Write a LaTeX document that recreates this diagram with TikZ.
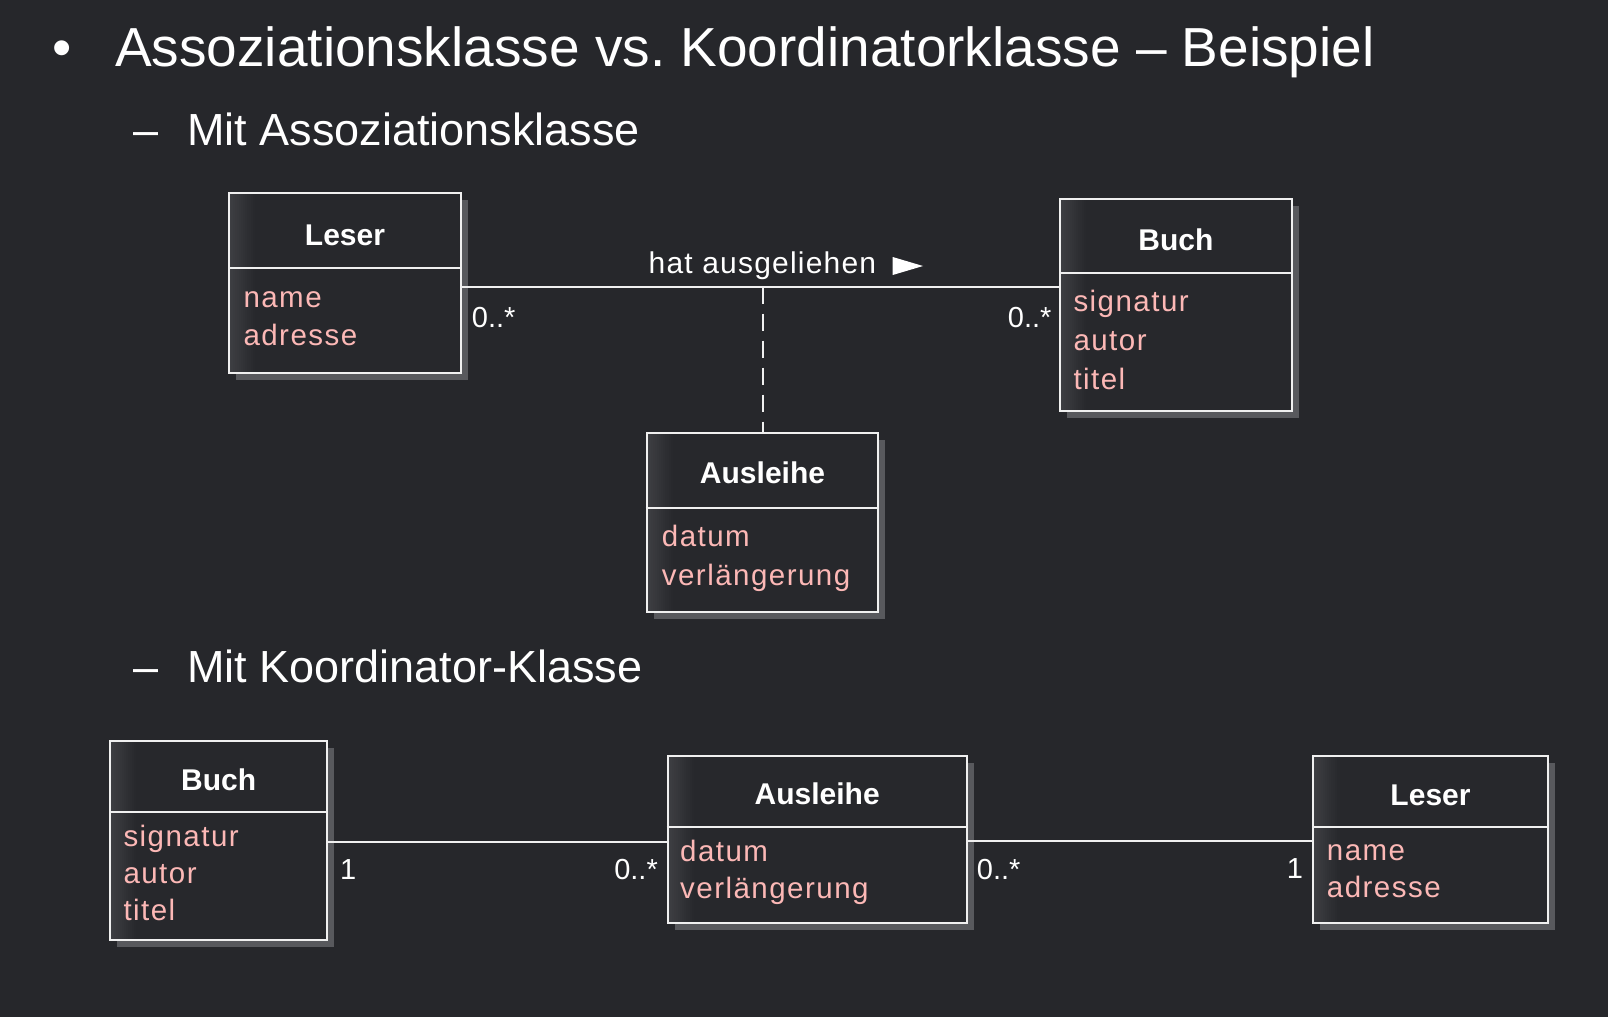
\documentclass[tikz,border=0pt]{standalone}
\usepackage{fontspec}
\setmainfont{Liberation Sans}
\newfontfamily\attrfont[LetterSpace=5]{Liberation Sans}
\newfontfamily\labelfont[LetterSpace=4]{Liberation Sans}
\usetikzlibrary{shadows}
\frenchspacing
\definecolor{bgc}{RGB}{38,39,43}
\definecolor{boxbg}{RGB}{39,40,44}
\definecolor{boxlight}{RGB}{62,63,67}
\definecolor{shadowc}{RGB}{88,89,93}
\definecolor{linec}{RGB}{240,240,240}
\definecolor{attrc}{RGB}{252,184,182}
\tikzset{
  classbox/.style={draw=linec, line width=2pt, fill=boxbg, inner sep=0pt,
    drop shadow={shadow xshift=7pt, shadow yshift=-7pt, shadow scale=1, fill=shadowc, opacity=1},
    path picture={\foreach \i in {0,...,12}{%
        \pgfmathtruncatemacro{\pct}{100-\i*8}%
        \fill[boxlight!\pct!boxbg] ([xshift=\i*2pt]path picture bounding box.south west)
          rectangle ([xshift=\i*2pt+2.2pt]path picture bounding box.north west);}}},
  sepline/.style={draw=linec, line width=2pt},
  conn/.style={draw=linec, line width=2pt},
  dashconn/.style={draw=linec, line width=2pt, dash pattern=on 17pt off 10pt},
  headtext/.style={anchor=base, inner sep=0pt, text=white, font=\bfseries\fontsize{30}{36}\selectfont},
  attr/.style={anchor=base west, inner sep=0pt, text=attrc, font=\attrfont\fontsize{29.5}{36}\selectfont},
  mult/.style={inner sep=0pt, text=white, font=\fontsize{29}{34}\selectfont},
  heading/.style={anchor=base west, inner sep=0pt, text=white, font=\fontsize{55}{62}\selectfont},
  subheading/.style={anchor=base west, inner sep=0pt, text=white, font=\fontsize{45}{52}\selectfont},
}
\newcommand\umlclass[9]{%
  \node[classbox, minimum width=#4pt, minimum height=#5pt] (#1) at (#2,#3) {};
  \draw[sepline] (#1.west |- 0,#6) -- (#1.east |- 0,#6);
  \node[headtext] (#1-title) at (#2,#8) {#7};
}
\begin{document}
\begin{tikzpicture}[x=1pt,y=-1pt]
\fill[bgc] (0,0) rectangle (1608,1017);
\useasboundingbox (0,0) rectangle (1608,1017);

% headings
\node[heading] (bullet) at (52.5,66.7) {•};
\node[heading] (title) at (115,66.7) {Assoziationsklasse vs. Koordinatorklasse – Beispiel};
\node[subheading] (dash1) at (133,145) {–};
\node[subheading] (sub1) at (187,145) {Mit Assoziationsklasse};
\node[subheading] (dash2) at (133,682.5) {–};
\node[subheading] (sub2) at (187,682.5) {Mit Koordinator-Klasse};

% ---------- upper diagram ----------
\umlclass{l1}{345}{282.85}{232}{179.7}{268}{Leser}{245.7}{}
\node[attr] (l1-a1) at (243.3,307.7) {name};
\node[attr] (l1-a2) at (243.3,345.7) {adresse};

\umlclass{b1}{1175.85}{305}{231.7}{212}{273.3}{Buch}{250}{}
\node[attr] (b1-a1) at (1073.3,311.7) {signatur};
\node[attr] (b1-a2) at (1073.3,350) {autor};
\node[attr] (b1-a3) at (1073.3,389.3) {titel};

\umlclass{a1}{762.5}{522.2}{231.6}{179}{507.7}{Ausleihe}{483.3}{}
\node[attr] (a1-a1) at (661.7,546.7) {datum};
\node[attr] (a1-a2) at (661.7,585.7) {verlängerung};

\coordinate (assocL) at ([yshift=-3.85pt]l1.east);
\coordinate (assocR) at (assocL -| b1.west);
\draw[conn] (assocL) -- (assocR);
\draw[dashconn] (assocL -| a1.north) -- (a1.north);
\node[anchor=base west, inner sep=0pt, text=white, font=\labelfont\fontsize{30}{36}\selectfont] (assoclabel) at (648.5,273.3) {hat ausgeliehen};
\fill[white] (892.7,257) -- (923,266) -- (892.7,275) -- cycle;
\node[mult, anchor=base west] (m1) at (471.7,327.7) {0..*};
\node[mult, anchor=base east] (m2) at (1051.7,327.7) {0..*};

% ---------- lower diagram ----------
\umlclass{b2}{218.65}{840.5}{217.3}{199}{812.3}{Buch}{790}{}
\node[attr] (b2-a1) at (123.3,846.7) {signatur};
\node[attr] (b2-a2) at (123.3,883.3) {autor};
\node[attr] (b2-a3) at (123.3,920) {titel};

\umlclass{a2}{817.2}{839.65}{299}{167.3}{826.7}{Ausleihe}{804}{}
\node[attr] (a2-a1) at (680,861.7) {datum};
\node[attr] (a2-a2) at (680,898.3) {verlängerung};

\umlclass{l2}{1430.5}{839.5}{234.4}{167.6}{827.3}{Leser}{805}{}
\node[attr] (l2-a1) at (1326.7,860.7) {name};
\node[attr] (l2-a2) at (1326.7,897.3) {adresse};

\coordinate (c1) at ([yshift=-1.2pt]b2.east);
\draw[conn] (c1) -- (c1 -| a2.west);
\coordinate (c2) at ([yshift=-1pt]a2.east);
\draw[conn] (c2) -- (c2 -| l2.west);
\node[mult, anchor=base west] (m3) at (340,879) {1};
\node[mult, anchor=base east] (m4) at (658,879.5) {0..*};
\node[mult, anchor=base west] (m5) at (976.7,879.3) {0..*};
\node[mult, anchor=base east] (m6) at (1303.3,878.3) {1};
\end{tikzpicture}
\end{document}
